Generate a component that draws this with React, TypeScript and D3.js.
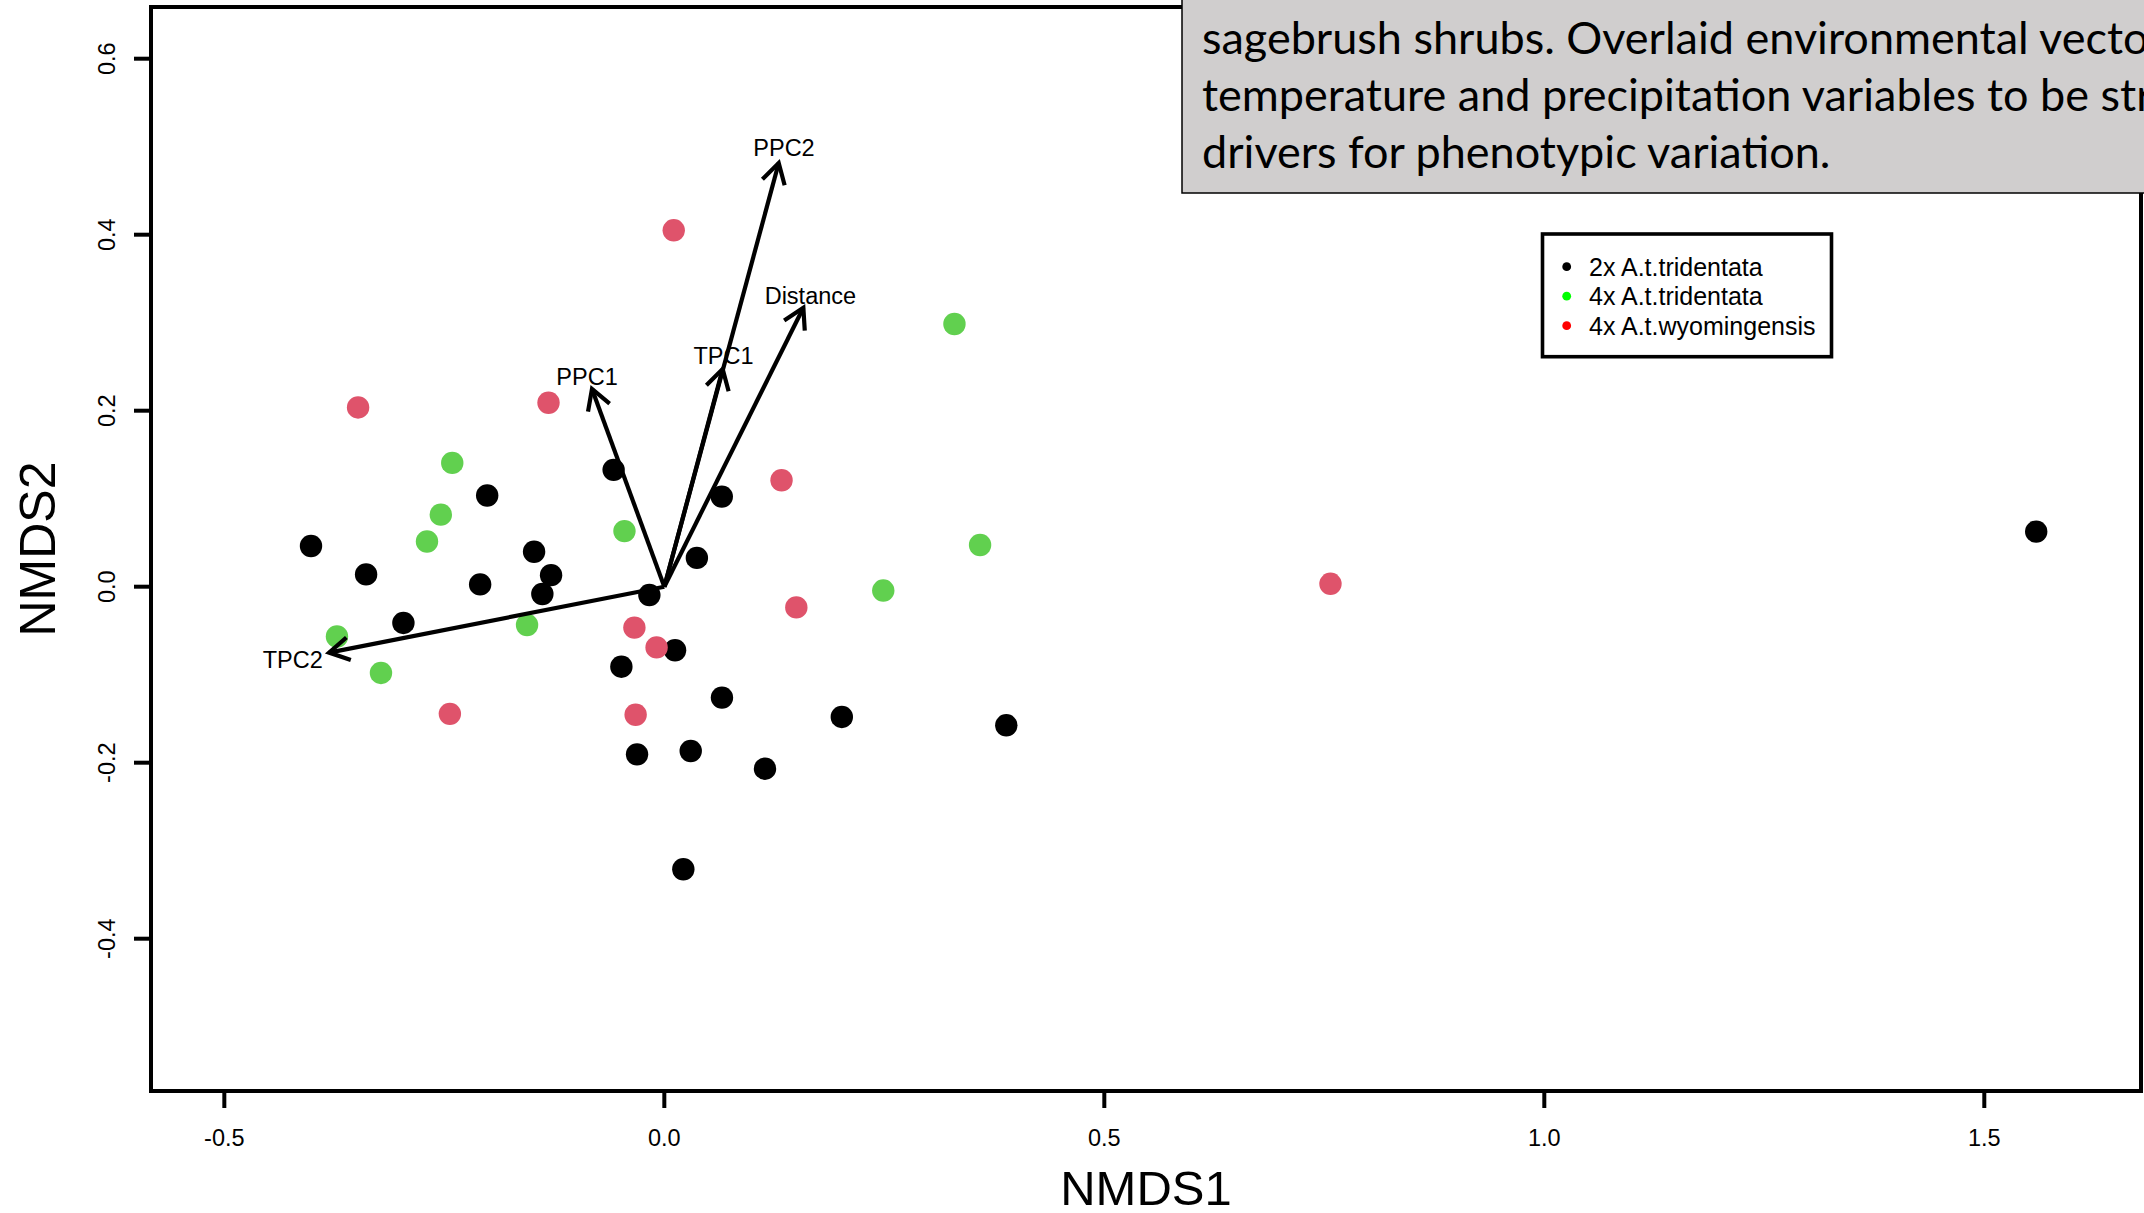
import React from "react";
import * as d3 from "d3";

// ---- data ----
const groupNames = ["2x A.t.tridentata", "4x A.t.tridentata", "4x A.t.wyomingensis"];
const pointColors = ["#000000", "#61D04F", "#DF536B"];
const legendColors = ["#000000", "#00FF00", "#FF0000"];

const nmds1_2x = [-0.2013, -0.0576, -0.4015, 0.0653, -0.148, 0.037, -0.3389, -0.1287, -0.2093, -0.1386, -0.017, -0.2965, 0.0122, -0.0488, 0.0655, 0.2017, 0.3886, -0.031, 0.030, 0.1144, 0.0216, 1.559];
const nmds2_2x = [0.1036, 0.1328, 0.0462, 0.1024, 0.0397, 0.0327, 0.014, 0.0131, 0.0026, -0.0083, -0.0095, -0.0412, -0.0722, -0.0909, -0.126, -0.148, -0.1575, -0.1905, -0.1867, -0.2068, -0.3211, 0.0626];

const nmds1_4xT = [-0.241, -0.254, -0.2697, -0.0453, 0.2488, -0.156, -0.372, -0.322, 0.3588, 0.3297];
const nmds2_4xT = [0.1407, 0.0819, 0.0514, 0.0632, -0.0044, -0.0435, -0.0566, -0.098, 0.0474, 0.2985];

const nmds1_4xW = [0.0107, -0.348, -0.1316, 0.1332, 0.150, -0.034, -0.0088, -0.2437, -0.0326, 0.757];
const nmds2_4xW = [0.405, 0.2037, 0.209, 0.121, -0.0235, -0.0465, -0.069, -0.1445, -0.1455, 0.0033];

const vectorNames = ["PPC2", "Distance", "TPC1", "PPC1", "TPC2"];
const vectorX = [0.130, 0.158, 0.0663, -0.0822, -0.381];
const vectorY = [0.4815, 0.317, 0.2474, 0.2247, -0.0749];
const labelX = [0.136, 0.166, 0.0673, -0.0878, -0.4223];
const labelY = [0.498, 0.330, 0.2626, 0.2386, -0.0835];

const xTicks = [-0.5, 0.0, 0.5, 1.0, 1.5];
const yTicks = [-0.4, -0.2, 0.0, 0.2, 0.4, 0.6];

const captionLines = [
  "sagebrush shrubs. Overlaid environmental vectors",
  "temperature and precipitation variables to be strong",
  "drivers for phenotypic variation.",
];

// ---- layout ----
const W = 2144;
const H = 1213;
const left = 151, right = 2141, top = 7, bottom = 1091;

export default function App() {
  const x = d3.scaleLinear().domain([-0.58333, 1.67807]).range([left, right]);
  const y = d3.scaleLinear().domain([-0.57307, 0.65875]).range([bottom, top]);
  const fmt = (v: number) => v.toFixed(1);
  const sans = "'Liberation Sans', Arial, Helvetica, sans-serif";

  const groups = [
    { xs: nmds1_2x, ys: nmds2_2x, color: pointColors[0] },
    { xs: nmds1_4xT, ys: nmds2_4xT, color: pointColors[1] },
    { xs: nmds1_4xW, ys: nmds2_4xW, color: pointColors[2] },
  ];

  const ox = x(0), oy = y(0);
  const headLen = 23;
  const headAng = Math.PI / 6;

  return (
    <svg width={W} height={H} style={{ position: "absolute", left: 0, top: 0, background: "#fff" }}>
      <rect x={0} y={0} width={W} height={H} fill="#fff" />
      {/* points */}
      {groups.map((g, gi) =>
        g.xs.map((v, i) => (
          <circle key={`p${gi}-${i}`} cx={x(v)} cy={y(g.ys[i])} r={11.2} fill={g.color} />
        ))
      )}
      {/* vectors */}
      {vectorNames.map((n, i) => {
        const tx = x(vectorX[i]), ty = y(vectorY[i]);
        const a = Math.atan2(ty - oy, tx - ox);
        const b1x = tx - headLen * Math.cos(a - headAng), b1y = ty - headLen * Math.sin(a - headAng);
        const b2x = tx - headLen * Math.cos(a + headAng), b2y = ty - headLen * Math.sin(a + headAng);
        return (
          <g key={`v${i}`} stroke="#000" strokeWidth={4.2} fill="none" strokeLinecap="butt">
            <line x1={ox} y1={oy} x2={tx} y2={ty} />
            <polyline points={`${b1x},${b1y} ${tx},${ty} ${b2x},${b2y}`} strokeLinejoin="miter" />
          </g>
        );
      })}
      {vectorNames.map((n, i) => (
        <text key={`vl${i}`} x={x(labelX[i])} y={y(labelY[i])} textAnchor="middle" dominantBaseline="central"
          fontFamily={sans} fontSize={23.5} fill="#000">{n}</text>
      ))}
      {/* frame */}
      <rect x={left} y={top} width={right - left} height={bottom - top} fill="none" stroke="#000" strokeWidth={4} />
      {/* x axis */}
      {xTicks.map((t) => (
        <g key={`xt${t}`}>
          <line x1={x(t)} x2={x(t)} y1={bottom} y2={bottom + 17} stroke="#000" strokeWidth={4} />
          <text x={x(t)} y={1138} textAnchor="middle" dominantBaseline="central" fontFamily={sans} fontSize={23.5}>{fmt(t)}</text>
        </g>
      ))}
      {/* y axis */}
      {yTicks.map((t) => (
        <g key={`yt${t}`}>
          <line x1={left - 17} x2={left} y1={y(t)} y2={y(t)} stroke="#000" strokeWidth={4} />
          <text transform={`translate(106.5,${y(t)}) rotate(-90)`} textAnchor="middle" dominantBaseline="central"
            fontFamily={sans} fontSize={23.5}>{fmt(t)}</text>
        </g>
      ))}
      <text x={(left + right) / 2} y={1188} textAnchor="middle" dominantBaseline="central" fontFamily={sans} fontSize={49}>NMDS1</text>
      <text transform={`translate(38,${(top + bottom) / 2}) rotate(-90)`} textAnchor="middle" dominantBaseline="central"
        fontFamily={sans} fontSize={50}>NMDS2</text>
      {/* legend */}
      <rect x={1542.5} y={234} width={289} height={122.7} fill="#fff" stroke="#000" strokeWidth={3.6} />
      {groupNames.map((n, i) => (
        <g key={`lg${i}`}>
          <circle cx={1566.7} cy={266.7 + i * 29.5} r={4.4} fill={legendColors[i]} />
          <text x={1589} y={266.7 + i * 29.5} dominantBaseline="central" fontFamily={sans} fontSize={25}>{n}</text>
        </g>
      ))}
      {/* caption box */}
      <rect x={1182} y={-10} width={1000} height={203} fill="#D0CECE" stroke="#000" strokeWidth={1.5} />
      {captionLines.map((l, i) => (
        <text key={`c${i}`} x={1202} y={54 + i * 56.8} fontFamily="Lato, 'Open Sans', sans-serif" fontSize={45} fill="#000">{l}</text>
      ))}
    </svg>
  );
}
